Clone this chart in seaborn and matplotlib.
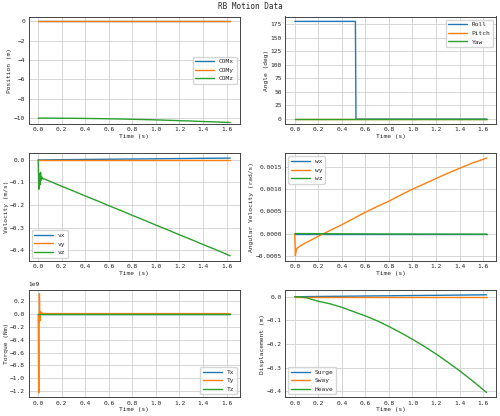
import matplotlib
matplotlib.use('Agg')
import matplotlib.pyplot as plt
import seaborn as sns
import pandas as pd

sns.set_theme(style='whitegrid')
plt.rcParams['font.family'] = ['DejaVu Sans Mono']
plt.rcParams['font.size'] = 4.5
plt.rcParams['axes.edgecolor'] = '#444444'
plt.rcParams['axes.linewidth'] = 0.7
plt.rcParams['grid.color'] = '#d0d0d0'
plt.rcParams['grid.linewidth'] = 0.6

# Time samples (s)
t = [0.0, 0.005, 0.01, 0.015, 0.02, 0.025, 0.03, 0.04, 0.05, 0.1, 0.2, 0.3, 0.4, 0.5, 0.515, 0.52,
     0.6, 0.7, 0.8, 0.9, 1.0, 1.1, 1.2, 1.3, 1.4, 1.5, 1.63]

com_x = [0.0] * 27
com_y = [0.0] * 27
com_z = [-10.0, -10.0, -10.0, -10.0, -10.0, -10.0, -10.0, -10.0, -10.0, -10.0, -10.01, -10.02, -10.03,
         -10.05, -10.05, -10.05, -10.07, -10.09, -10.12, -10.15, -10.18, -10.22, -10.26, -10.3,
         -10.35, -10.39, -10.45]

roll = [180, 180, 180, 180, 180, 180, 180, 180, 180, 180, 180, 180, 180, 180, 180, 0,
        0, 0, 0, 0, 0, 0, 0, 0, 0, 0, 0]
pitch = [0.0] * 27
yaw = [0.0] * 27

vx = [0.0, 0.0, 0.0, 0.0, 0.0, 0.0, 0.0, 0.0, 0.0, 0.0005, 0.001, 0.0015, 0.002, 0.0025, 0.0026, 0.0026,
      0.003, 0.0035, 0.004, 0.0045, 0.005, 0.0055, 0.006, 0.0065, 0.007, 0.0075, 0.008]
vy = [0.0] * 27
vz = [0.0, -0.13, -0.06, -0.11, -0.055, -0.09, -0.075, -0.085, -0.084, -0.095, -0.117, -0.138, -0.16,
      -0.181, -0.184, -0.185, -0.203, -0.224, -0.246, -0.267, -0.289, -0.31, -0.332, -0.353, -0.375,
      -0.396, -0.425]

wx = [0.0] * 27
wy = [0.0, -0.0005, -0.00042, -0.00035, -0.00033, -0.00032, -0.00031, -0.00029, -0.00027, -0.0002,
      -0.00006, 0.00007, 0.0002, 0.00034, 0.00036, 0.00037, 0.00048, 0.00061, 0.00073, 0.00087,
      0.001, 0.00112, 0.00124, 0.00136, 0.00147, 0.00158, 0.0017]
wz = [0.0, 0.0, 0.0, 0.0, 0.0, 0.0, 0.0, 0.0, 0.0, 0.0, -0.000002, -0.000004, -0.000005, -0.000006,
      -0.000006, -0.000006, -0.000007, -0.000008, -0.000009, -0.00001, -0.00001, -0.000011,
      -0.000011, -0.000012, -0.000012, -0.000013, -0.000013]

tx = [0.0] * 27
ty = [0.0, -1.23e9, 0.32e9, -0.1e9, 0.04e9, 0.015e9, 0.02e9, 0.015e9, 0.012e9, 0.01e9, 0.01e9, 0.01e9,
      0.01e9, 0.01e9, 0.01e9, 0.01e9, 0.01e9, 0.01e9, 0.01e9, 0.01e9, 0.01e9, 0.01e9, 0.01e9,
      0.01e9, 0.01e9, 0.01e9, 0.01e9]
tz = [0.0] * 27
torque_ticks = [-1.2e9, -1.0e9, -0.8e9, -0.6e9, -0.4e9, -0.2e9, 0.0, 0.2e9]

surge = vx[:]
sway = [0.0] * 27
heave = [0.0, 0.0, -0.0001, -0.0002, -0.0003, -0.0004, -0.0005, -0.0007, -0.0009, -0.0045, -0.019,
         -0.03, -0.045, -0.063, -0.066, -0.067, -0.081, -0.102, -0.126, -0.152, -0.18, -0.21,
         -0.242, -0.277, -0.313, -0.352, -0.405]

panels = [
    ('Position (m)', ['COMx', 'COMy', 'COMz'], [com_x, com_y, com_z], 'center right'),
    ('Angle (deg)', ['Roll', 'Pitch', 'Yaw'], [roll, pitch, yaw], 'upper right'),
    ('Velocity (m/s)', ['vx', 'vy', 'vz'], [vx, vy, vz], 'lower left'),
    ('Angular Velocity (rad/s)', ['wx', 'wy', 'wz'], [wx, wy, wz], 'upper left'),
    ('Torque (Nm)', ['Tx', 'Ty', 'Tz'], [tx, ty, tz], 'lower right'),
    ('Displacement (m)', ['Surge', 'Sway', 'Heave'], [surge, sway, heave], 'lower left'),
]

fig, axes = plt.subplots(3, 2, figsize=(5, 4.16), dpi=100)
colors = ['#1f77b4', '#ff7f0e', '#2ca02c']
for ax, (ylabel, names, series, loc) in zip(axes.flat, panels):
    df = pd.DataFrame({'t': t})
    for n, s in zip(names, series):
        df[n] = s
    long = df.melt('t', var_name='var', value_name='val')
    sns.lineplot(data=long, x='t', y='val', hue='var', hue_order=names, palette=colors,
                 ax=ax, linewidth=1.0)
    ax.set_xlabel('Time (s)', fontsize=4.5, labelpad=1)
    ax.set_ylabel(ylabel, fontsize=4.5, labelpad=1)
    ax.set_xticks([0.0, 0.2, 0.4, 0.6, 0.8, 1.0, 1.2, 1.4, 1.6])
    ax.tick_params(labelsize=4.5, pad=1, length=1.5)
    ax.yaxis.get_offset_text().set_fontsize(4.5)
    ax.legend(loc=loc, fontsize=4.5, title=None, handlelength=3, edgecolor='#cccccc')
    for sp in ax.spines.values():
        sp.set_visible(True)

axes[0, 0].set_ylim(-10.6, 0.5)
axes[2, 0].set_yticks(torque_ticks)
axes[2, 0].set_ylim(-1.3e9, 0.38e9)
fig.suptitle('RB Motion Data', fontsize=5.5, y=0.995)
fig.tight_layout(pad=0.6, h_pad=1.0, w_pad=1.5)
fig.savefig('out.png', dpi=100, facecolor='white')
